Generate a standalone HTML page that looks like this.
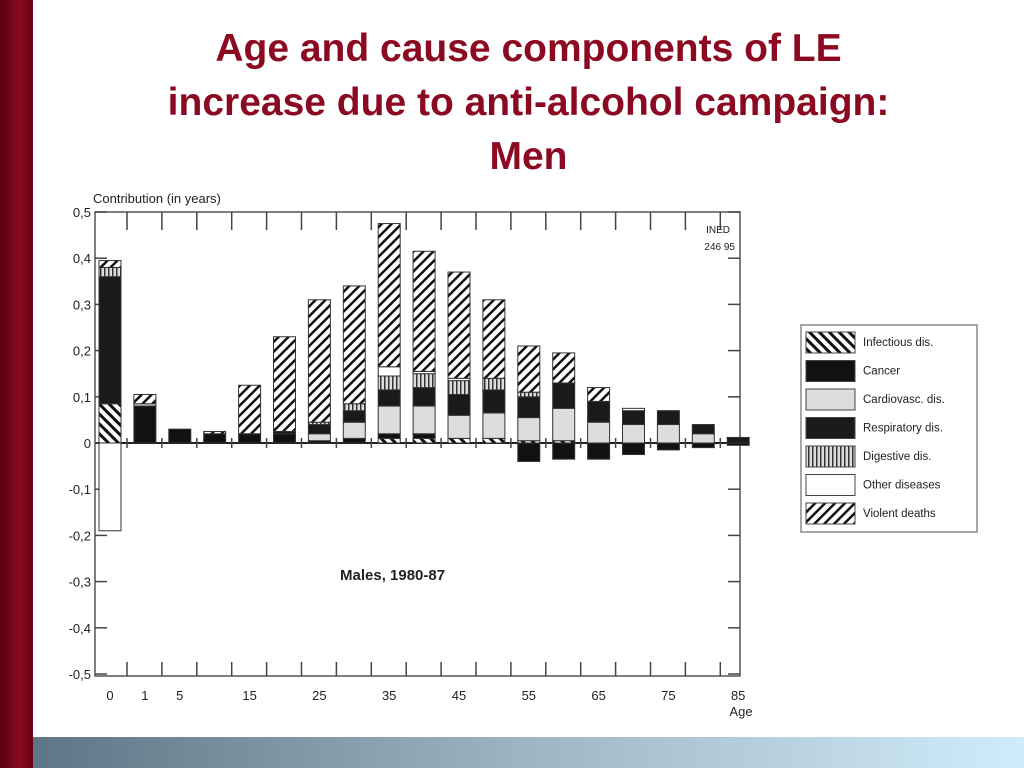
<!DOCTYPE html>
<html><head><meta charset="utf-8">
<style>
html,body{margin:0;padding:0;width:1024px;height:768px;overflow:hidden;background:#fff;font-family:"Liberation Sans",sans-serif}
#leftbar{position:absolute;left:0;top:0;width:33px;height:768px;background:linear-gradient(90deg,#5a0010,#8a0a20 60%,#6a0014)}
#bottombar{position:absolute;left:33px;top:737px;width:991px;height:31px;background:linear-gradient(90deg,#5f7585,#9fb5c4 50%,#d0ecfa)}
#title{position:absolute;left:33px;width:991px;top:22px;text-align:center;color:#8b0a22;font-weight:bold;font-size:39px;line-height:54px}
svg{position:absolute;left:0;top:0}
</style></head><body>
<div id="leftbar"></div>
<div id="bottombar"></div>
<div id="title">Age and cause components of LE<br>increase due to anti-alcohol campaign:<br>Men</div>
<svg id="chart" width="1024" height="768" font-family="Liberation Sans, sans-serif">
<defs>
<pattern id="p-inf" width="7" height="7" patternUnits="userSpaceOnUse" patternTransform="rotate(-45)"><rect width="7" height="7" fill="#fff"/><rect width="3" height="7" fill="#111"/></pattern>
<pattern id="p-viol" width="7" height="7" patternUnits="userSpaceOnUse" patternTransform="rotate(45)"><rect width="7" height="7" fill="#fff"/><rect width="2.5" height="7" fill="#111"/></pattern>
<pattern id="p-dig" width="4" height="4" patternUnits="userSpaceOnUse"><rect width="4" height="4" fill="#ddd"/><rect width="1.5" height="4" fill="#333"/></pattern>
</defs>
<g id="axes"></g><g id="bars"></g><g id="legend"></g>
</svg>
<script>
const ages = ["0","1","5","10","15","20","25","30","35","40","45","50","55","60","65","70","75","80","85"];
const causes = ["Infectious dis.","Cancer","Cardiovasc. dis.","Respiratory dis.","Digestive dis.","Other diseases","Violent deaths"];
const infectious = [0.085,0,0,0,0,0,0,0,0.01,0.01,0.01,0.01,0.005,0.005,0,0,0,0,0];
const cancer =     [0,0.08,0.03,0.02,0.02,0.02,0.005,0.01,0.01,0.01,0,0,-0.04,-0.035,-0.035,-0.025,-0.015,-0.01,-0.005];
const cardio =     [0,0.005,0,0,0,0,0.015,0.035,0.06,0.06,0.05,0.055,0.05,0.07,0.045,0.04,0.04,0.02,0];
const respiratory =[0.275,0,0,0,0,0.005,0.02,0.025,0.035,0.04,0.045,0.05,0.045,0.055,0.045,0.03,0.03,0.02,0.012];
const digestive =  [0.02,0,0,0,0,0,0.005,0.015,0.03,0.03,0.03,0.025,0.01,0,0,0,0,0,0];
const other =      [-0.19,0,0,0,0,0,0,0,0.02,0.005,0.005,0,0,0,0,0.005,0,0,0];
const violent =    [0.015,0.02,0,0.005,0.105,0.205,0.265,0.255,0.31,0.26,0.23,0.17,0.1,0.065,0.03,0,0,0,0];
const yTicks = ["0,5","0,4","0,3","0,2","0,1","0","-0,1","-0,2","-0,3","-0,4","-0,5"];
const yTickVals = [0.5,0.4,0.3,0.2,0.1,0,-0.1,-0.2,-0.3,-0.4,-0.5];
const xLabelAges = ["0","1","5","15","25","35","45","55","65","75","85"];

const series=[infectious,cancer,cardio,respiratory,digestive,other,violent];
const fills=["url(#p-inf)","#111","#ddd","#1a1a1a","url(#p-dig)","#fff","url(#p-viol)"];
const NS="http://www.w3.org/2000/svg";
const L=95,R=740,T=212,B=676;
const y=v=>443-v*462;
const x=i=>110+i*34.9;
function mk(tag,attrs,parent,text){const e=document.createElementNS(NS,tag);for(const k in attrs)e.setAttribute(k,attrs[k]);if(text!==undefined)e.textContent=text;parent.appendChild(e);return e;}
const ax=document.getElementById('axes'),bg=document.getElementById('bars'),lg=document.getElementById('legend');
let e;
e=mk('rect',{x:L,y:T,width:R-L,height:B-T,fill:'none',stroke:'#555','stroke-width':1.5},ax);


e=mk('line',{x1:L,x2:R,y1:y(0),y2:y(0),stroke:'#222','stroke-width':2},ax);


yTickVals.forEach((v,i)=>{
  mk('line',{x1:L,x2:L+12,y1:y(v),y2:y(v),stroke:'#444','stroke-width':1.5},ax);
  mk('line',{x1:R-12,x2:R,y1:y(v),y2:y(v),stroke:'#444','stroke-width':1.5},ax);
  e=mk('text',{x:L-4,y:y(v)+5,'text-anchor':'end','font-size':13,fill:'#222'},ax,yTicks[i]);
  
  
});
ages.forEach((a,i)=>{
  const xx=x(i)+17;
  if(i<ages.length-1){
  mk('line',{x1:xx,x2:xx,y1:T,y2:T+18,stroke:'#444','stroke-width':1.5},ax);
  mk('line',{x1:xx,x2:xx,y1:y(0)-5,y2:y(0)+5,stroke:'#444','stroke-width':1.5},ax);
  mk('line',{x1:xx,x2:xx,y1:B-14,y2:B,stroke:'#444','stroke-width':1.5},ax);}
  if(xLabelAges.includes(a)){
    e=mk('text',{x:x(i),y:700,'text-anchor':'middle','font-size':13,fill:'#222'},ax,a);
    
    
  }
});
e=mk('text',{x:741,y:716,'text-anchor':'middle','font-size':13,fill:'#222'},ax,'Age');


e=mk('text',{x:93,y:203,'font-size':13,fill:'#222'},ax,'Contribution (in years)');


e=mk('text',{x:730,y:233,'text-anchor':'end','font-size':10,fill:'#222'},ax,'INED');


e=mk('text',{x:735,y:250,'text-anchor':'end','font-size':10,fill:'#222'},ax,'246 95');


e=mk('text',{x:340,y:580,'font-size':15,'font-weight':'bold',fill:'#222'},ax,'Males, 1980-87');


ages.forEach((a,i)=>{
  let pos=0,neg=0;
  series.forEach((s,k)=>{
    const v=s[i]; if(!v) return;
    let y0,y1;
    if(v>0){y0=pos;y1=pos+v;pos=y1;}else{y0=neg+v;y1=neg;neg=y0;}
    const r=mk('rect',{x:x(i)-11,y:y(y1),width:22,height:Math.max(1,y(y0)-y(y1)),fill:fills[k],stroke:'#333','stroke-width':1},bg);
    
    
  });
});
e=mk('rect',{x:801,y:325,width:176,height:207,fill:'#fff',stroke:'#888','stroke-width':1.5},lg);


causes.forEach((c,k)=>{
  const cy=342+k*28.5;
  e=mk('rect',{x:806,y:cy-10,width:49,height:21,fill:fills[k],stroke:'#444','stroke-width':1},lg);
  
  
  e=mk('text',{x:863,y:cy+4,'font-size':11.5,fill:'#222'},lg,c);
  
  
});
</script>
</body></html>
